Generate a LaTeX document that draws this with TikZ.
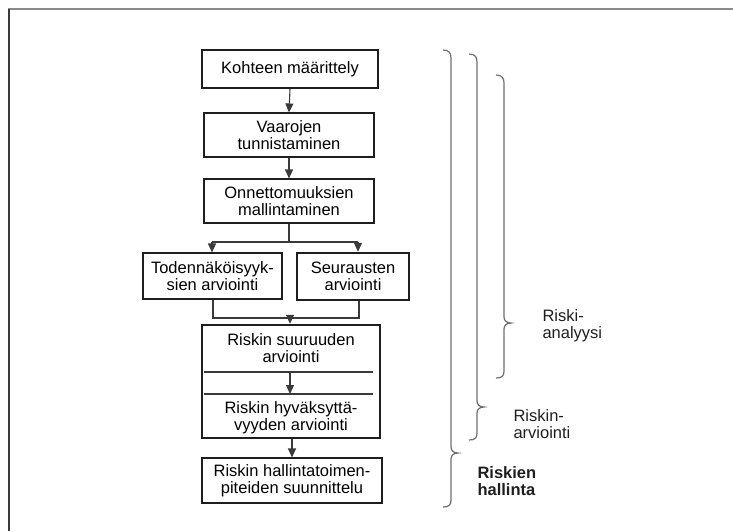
\documentclass[tikz,border=0pt]{standalone}
\usepackage{fontspec}
\setmainfont{Liberation Sans}
\usetikzlibrary{arrows.meta}
\definecolor{boxcol}{HTML}{1E1E1E}
\definecolor{linecol}{HTML}{3A3A3A}
\definecolor{bracecol}{HTML}{6E6E6E}
\definecolor{framecol}{HTML}{8A8A8A}
\begin{document}
\begin{tikzpicture}[x=1pt,y=-1pt,
  txt/.style={font=\fontsize{16.5}{17}\selectfont},
  box/.style={txt,draw=boxcol,line width=1.1pt,align=center,inner sep=0pt},
  thickbox/.style={box,line width=2.4pt},
  flow/.style={draw=linecol,line width=1.1pt,-{Triangle[length=9pt,width=8pt]}},
  plain/.style={draw=linecol,line width=1.1pt},
  brace/.style={draw=bracecol,line width=1.2pt},
  lbl/.style={txt,anchor=west,align=left,text=boxcol}]
\useasboundingbox (0,0) rectangle (733,531);

% page frame
\draw[framecol,line width=2pt] (8,9) -- (733,9);
\draw[linecol,line width=2pt] (9,9) -- (9,531);

% process boxes
\node[thickbox,minimum width=176pt,minimum height=38pt] (kohde) at (290,69) {Kohteen määrittely};
\node[box,minimum width=170pt,minimum height=44pt] (vaara) at (289,135) {Vaarojen\\tunnistaminen};
\node[box,minimum width=170pt,minimum height=44pt] (malli) at (289,201) {Onnettomuuksien\\mallintaminen};
\node[box,minimum width=139pt,minimum height=46pt] (tod) at (212.5,276) {Todennäköisyyk-\\sien arviointi};
\node[thickbox,minimum width=112pt,minimum height=47pt] (seur) at (353,276.5) {Seurausten\\arviointi};
\node[thickbox,minimum width=178pt,minimum height=113pt] (riski) at (291,381.5) {};
\node[txt,align=center] (suur) at (291,348.5) {Riskin suuruuden\\arviointi};
\node[txt,align=center] (hyv) at (291,417.5) {Riskin hyväksyttä-\\vyyden arviointi};
\node[box,minimum width=180pt,minimum height=45pt] (hall) at (292,480.5) {Riskin hallintatoimen-\\piteiden suunnittelu};

% connectors
\draw[flow] (kohde.south) -- (vaara.north);
\draw[flow] (vaara.south) -- (malli.north);
\coordinate (split) at (289,242);
\coordinate (splitL) at (212,242);
\coordinate (splitR) at (358,242);
\draw[plain] (malli.south) -- (split);
\draw[plain] (splitL) -- (splitR);
\draw[flow] (splitL) -- (splitL |- tod.north);
\draw[flow] (splitR) -- (splitR |- seur.north);
\coordinate (joinL) at (213,318);
\coordinate (joinR) at (359,318);
\coordinate (join) at (290,318);
\draw[plain] (joinL |- tod.south) -- (joinL) -- (joinR) -- (joinR |- seur.south);
\draw[flow] (join) -- (join |- riski.north);

% divider inside the risk box
\coordinate (divA) at (204,372);
\coordinate (divB) at (204,394);
\draw[plain] (divA) -- (373,372);
\draw[plain] (divB) -- (373,394);
\coordinate (divAc) at (290,372);
\coordinate (divBc) at (290,394);
\draw[flow] (divAc) -- (divBc);
\draw[flow] (riski.south -| hall.north) -- (hall.north);

% braces
\draw[brace] (443,50) .. controls (449,50) and (451,53) .. (451,58) -- (451,447)
  .. controls (451,451) and (454,453) .. (458,453)
  .. controls (454,453) and (451,455) .. (451,459) -- (451,500)
  .. controls (451,505) and (449,507) .. (443,507);
\draw[brace] (469,54) .. controls (475,54) and (477,57) .. (477,62) -- (477,401)
  .. controls (477,405) and (480,407) .. (484,407)
  .. controls (480,407) and (477,409) .. (477,413) -- (477,433)
  .. controls (477,438) and (475,440) .. (469,440);
\draw[brace] (496,75) .. controls (502,75) and (504,78) .. (504,83) -- (504,317)
  .. controls (504,321) and (507,323) .. (511,323)
  .. controls (507,323) and (504,325) .. (504,329) -- (504,371)
  .. controls (504,376) and (502,378) .. (496,378);

% brace labels
\node[lbl] (analyysi) at (539,326) {Riski-\\analyysi};
\node[lbl] (arviointi) at (510,424) {Riskin-\\arviointi};
\node[lbl,font=\fontsize{16.5}{17}\selectfont\bfseries] (hallinta) at (474,481) {Riskien\\hallinta};
\end{tikzpicture}
\end{document}
